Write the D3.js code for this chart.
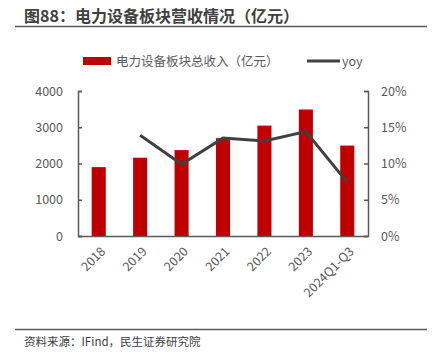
<!DOCTYPE html>
<html>
<head>
<meta charset="utf-8">
<script src="https://cdn.jsdelivr.net/npm/d3@7"></script>
<style>
  body { margin: 0; background: #fff; }
  text { font-family: "Noto Sans CJK SC", "Noto Sans", sans-serif; }
</style>
</head>
<body>
<div id="chart"></div>
<script>
// data
var categories = ['2018', '2019', '2020', '2021', '2022', '2023', '2024Q1-Q3'];
var revenue = [1900, 2160, 2370, 2700, 3045, 3490, 2495];
var yoy = [null, 13.9, 9.9, 13.5, 13.1, 14.4, 7.4];
var leftTicks = [0, 1000, 2000, 3000, 4000];
var rightTicks = [0, 5, 10, 15, 20];

var width = 435, height = 354;
var plotLeft = 78, plotRight = 368, plotTop = 91, plotBottom = 236;

var svg = d3.select('#chart').append('svg')
    .attr('width', width)
    .attr('height', height);

// title and rules
svg.append('text')
    .attr('x', 24).attr('y', 22)
    .attr('font-size', 16).attr('font-weight', 'bold')
    .attr('fill', '#404040')
    .text('图88：电力设备板块营收情况（亿元）');
svg.append('line')
    .attr('x1', 15).attr('x2', 427).attr('y1', 26.5).attr('y2', 26.5)
    .attr('stroke', '#595959').attr('stroke-width', 1.5);
svg.append('line')
    .attr('x1', 15).attr('x2', 427).attr('y1', 329.5).attr('y2', 329.5)
    .attr('stroke', '#595959').attr('stroke-width', 1.5);
svg.append('text')
    .attr('x', 24).attr('y', 346)
    .attr('font-size', 11.5).attr('fill', '#404040')
    .text('资料来源：IFind，民生证券研究院');

var x = d3.scaleBand().domain(categories).range([plotLeft, plotRight]).paddingInner(0.66).paddingOuter(0.33);
var y = d3.scaleLinear().domain([0, 4000]).range([plotBottom, plotTop]);
var y2 = d3.scaleLinear().domain([0, 20]).range([plotBottom, plotTop]);

// bars
svg.append('g').selectAll('rect')
    .data(revenue)
    .enter()
    .append('rect')
      .attr('x', function(d, i) { return x(categories[i]); })
      .attr('y', function(d) { return y(d); })
      .attr('width', x.bandwidth())
      .attr('height', function(d) { return plotBottom - y(d); })
      .attr('fill', '#C00000');

// yoy line
var line = d3.line()
    .defined(function(d) { return d != null; })
    .x(function(d, i) { return x(categories[i]) + x.bandwidth() / 2; })
    .y(function(d) { return y2(d); });
svg.append('path')
    .datum(yoy)
    .attr('d', line)
    .attr('fill', 'none')
    .attr('stroke', '#404040')
    .attr('stroke-width', 3);

// axes
var axisColor = '#595959';
var gl = svg.append('g')
    .attr('transform', 'translate(' + plotLeft + ',0)')
    .call(d3.axisRight(y).tickValues(leftTicks).tickSize(4).tickFormat(d3.format('d')));
gl.selectAll('text').attr('x', -15).attr('text-anchor', 'end');

var gr = svg.append('g')
    .attr('transform', 'translate(' + plotRight + ',0)')
    .call(d3.axisLeft(y2).tickValues(rightTicks).tickSize(4).tickFormat(function(d) { return d + '%'; }));
gr.selectAll('text').attr('x', 13).attr('text-anchor', 'start');

var gx = svg.append('g')
    .attr('transform', 'translate(0,' + plotBottom + ')')
    .call(d3.axisBottom(x).tickSize(0).tickSizeOuter(0));
gx.select('.domain').attr('d', 'M' + plotLeft + ',0.5H' + plotRight);
gx.selectAll('text')
    .attr('transform', 'rotate(-45)')
    .attr('text-anchor', 'end')
    .attr('dx', '-0.5em')
    .attr('dy', '1.1em');

[gl, gr, gx].forEach(function(g) {
  g.selectAll('.domain').attr('stroke', axisColor).attr('stroke-width', 1.5);
  g.selectAll('.tick line').attr('stroke', axisColor).attr('stroke-width', 1.5);
  g.selectAll('text').attr('fill', '#595959').attr('font-size', 12.5)
      .attr('font-family', '"Noto Sans CJK SC", "Noto Sans", sans-serif');
});

// legend
var legend = svg.append('g');
legend.append('rect')
    .attr('x', 83).attr('y', 57).attr('width', 28).attr('height', 8)
    .attr('fill', '#C00000');
legend.append('text')
    .attr('x', 116).attr('y', 66)
    .attr('font-size', 12.5).attr('fill', '#595959')
    .text('电力设备板块总收入（亿元）');
legend.append('line')
    .attr('x1', 307).attr('x2', 340).attr('y1', 61).attr('y2', 61)
    .attr('stroke', '#404040').attr('stroke-width', 3);
legend.append('text')
    .attr('x', 342).attr('y', 66)
    .attr('font-size', 12.5).attr('fill', '#595959')
    .text('yoy');
</script>
</body>
</html>
